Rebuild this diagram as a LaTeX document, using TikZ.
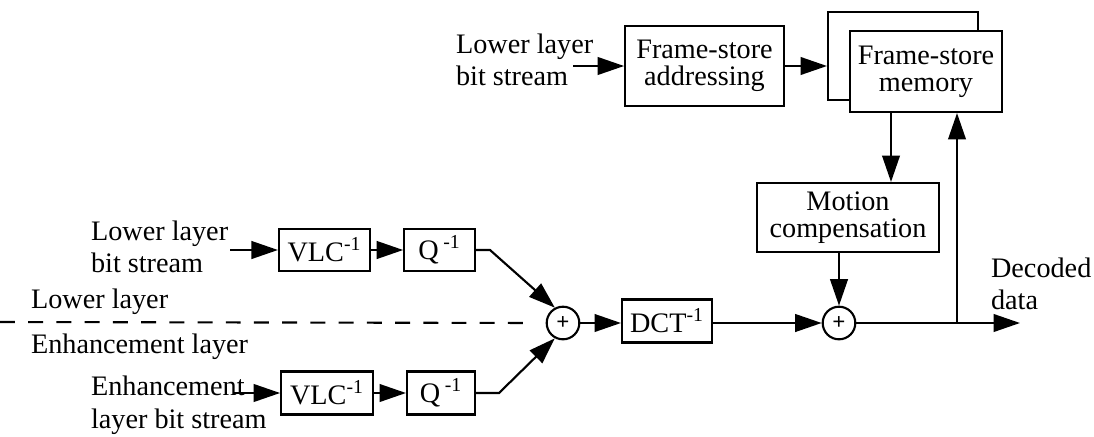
\documentclass[tikz,border=0pt]{standalone}
\usepackage{fontspec}
\setmainfont{Liberation Serif}
\usetikzlibrary{arrows.meta}
\begin{document}
\begin{tikzpicture}[x=0.567pt,y=-0.567pt,
  line width=1.2pt,
  >={Triangle[length=15pt,width=10pt]},
  every node/.style={font=\fontsize{16}{18.5}\selectfont},
  blk/.style={draw, fill=white, align=center, inner sep=0pt,
    font=\fontsize{16}{15.5}\selectfont},
  sumnode/.style={draw, circle, minimum size=18.5pt, inner sep=0pt,
    font=\fontsize{13}{13}\selectfont\bfseries},
  lbl/.style={align=left, inner sep=0pt, anchor=west},
  layerline/.style={dash pattern=on 8.5pt off 7.5pt}]
\useasboundingbox (0,0) rectangle (1094,436);

% frame store path
\node[lbl] (inTopLbl) at (455,60) {Lower layer\\bit stream};
\node[blk, minimum width=90pt, minimum height=45.4pt] (fsa) at (704.5,66) {Frame-store\\addressing};
\node[blk, minimum width=85pt, minimum height=49.9pt] (back) at (903,56) {};
\node[blk, minimum width=86.2pt, minimum height=45.9pt] (mem) at (926,71.5) {Frame-store\\memory};
\node[blk, minimum width=103.2pt, minimum height=39.1pt] (mc) at (848,217.5) {Motion\\compensation};

% main signal path
\node[sumnode] (s1) at (563,323) {+};
\node[blk, minimum width=51pt, minimum height=24.4pt] (dct) at (667,321) {DCT\textsuperscript{-1}};
\node[sumnode] (s2) at (839,323) {+};

% lower layer decoder
\node[blk, minimum width=51.6pt, minimum height=23.8pt] (vlc1) at (324.5,250) {VLC\textsuperscript{-1}};
\node[blk, minimum width=40pt, minimum height=23.8pt] (q1) at (439.5,250) {Q\,\textsuperscript{-1}};
% enhancement layer decoder
\node[blk, minimum width=52pt, minimum height=24.4pt] (vlc2) at (327,393) {VLC\textsuperscript{-1}};
\node[blk, minimum width=38.5pt, minimum height=24.4pt] (q2) at (441,393) {Q\,\textsuperscript{-1}};

% labels
\node[lbl] (lblA) at (90,247) {Lower layer\\bit stream};
\node[lbl] (lblLower) at (30,302) {Lower layer};
\node[lbl] (lblEnh) at (30,347) {Enhancement layer};
\node[lbl] (lblB) at (90,405) {Enhancement\\layer bit stream};
\node[lbl] (lblOut) at (990,284) {Decoded\\data};

% free ends and bends
\coordinate (inT) at (573,66);
\coordinate (inA) at (230,250);
\coordinate (inB) at (233,393);
\coordinate (k1) at (490,250);
\coordinate (k2) at (499,393);
\coordinate (dashL) at (0,322);
\coordinate (tap) at (957,323);
\coordinate (out) at (1020,323);
\coordinate (fmx) at (891,0);

% connectors
\draw[->] (inT) -- (fsa.west);
\draw[->] (fsa.east) -- (fsa.east -| back.west);
\draw[->] (fmx |- mem.south) -- (fmx |- mc.north);
\draw[->] (mc.south -| s2) -- (s2.north);
\draw[->] (tap) -- (tap |- mem.south);

\draw[->] (inA) -- (vlc1.west);
\draw[->] (vlc1) -- (q1);
\draw[->] (q1.east) -- (k1) -- (s1.118);
\draw[->] (inB) -- (vlc2.west);
\draw[->] (vlc2) -- (q2);
\draw[->] (q2.east) -- (k2) -- (s1.242);

\draw[layerline, shorten >=6pt] (dashL) -- (s1.west);
\draw[->] (s1) -- (s1 -| dct.west);
\draw[->] (s1 -| dct.east) -- (s2);
\draw[->] (s2) -- (out);
\end{tikzpicture}
\end{document}
